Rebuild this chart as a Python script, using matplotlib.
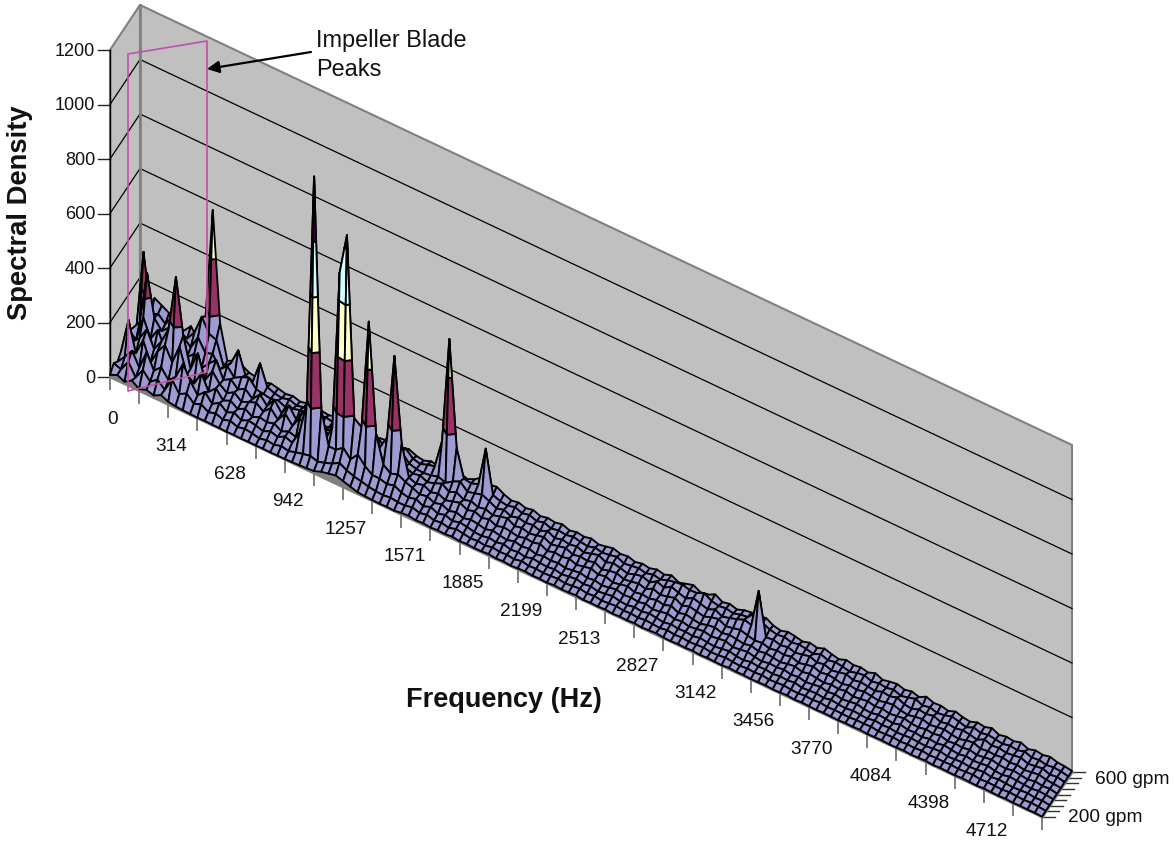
import matplotlib
matplotlib.use('Agg')
import matplotlib.pyplot as plt
from matplotlib.collections import PolyCollection

plt.rcParams['font.family'] = ['Liberation Sans', 'DejaVu Sans']

# front row first, one value per 39.27 Hz bin
row_200 = [8,20,8,25,6,16,8,22,10,6, 4,3,2,3,2,2,1,2,1,2, 1,2,1,2,2,3,4,6,8,18,
    24,30,22,14,6,4,3,2,3,2, 6,8,4,6,3,5,4,7,3,5, 3,4,6,3,5,2,4,6,3,4, 2,5,3,4,6,2,4,3,5,2,
    4,3,5,2,4,6,3,2,4,3, 5,2,4,3,2,5,3,4,2,3, 4,2,3,5,2,4,3,2,4,3, 2,4,3,5,2,3,4,2,3,4,
    2,3,5,2,4,3,2,4,3,2, 4,3,2,4,2,3,2,3,1]
row_250 = [30,20,60,15,55,25,45,20,70,30, 45,20,30,14,22,12,20,10,16,12, 6,12,8,16,10,18,25,30,22,30,
    40,55,40,30,25,18,14,12,16,12, 12,18,10,16,8,12,6,14,10,5, 8,4,10,6,8,4,10,5,7,4, 6,8,4,7,10,5,8,4,6,9,
    5,7,4,8,6,4,9,5,7,4, 6,8,4,5,9,6,4,7,5,8, 4,6,8,5,4,7,5,8,4,6, 5,4,7,6,8,4,5,7,4,6,
    5,8,4,6,5,7,4,6,8,4, 6,5,4,7,5,4,6,4,2]
row_300 = [15,45,80,30,100,45,70,35,60,120, 70,30,55,24,40,18,30,14,26,20, 12,24,16,30,20,70,190,1035,190,70,
    70,90,60,90,60,40,40,32,40,26, 20,28,14,24,12,20,10,18,14,8, 6,12,8,14,6,10,4,12,8,6, 10,4,8,12,6,10,4,8,12,6,
    4,10,6,12,8,4,10,6,8,4, 10,6,4,8,12,6,4,10,6,8, 4,8,6,10,4,6,8,4,10,6, 4,8,6,4,10,6,8,4,6,8,
    6,4,8,10,4,6,8,4,6,10, 4,8,6,4,6,8,4,6,2]
row_350 = [35,160,50,110,40,95,130,80,150,60, 40,90,35,60,28,40,22,36,18,30, 24,32,16,28,20,36,40,70,60,120,
    700,850,190,170,570,170,70,50,60,45, 36,24,30,18,26,14,22,12,20,16, 10,18,12,8,16,10,14,6,12,8, 12,6,10,14,8,12,6,10,16,8,
    12,8,14,6,10,16,8,12,6,10, 14,8,12,16,6,10,14,8,4,10, 8,12,6,10,4,8,12,6,10,4, 8,12,6,4,10,8,4,12,6,8,
    4,10,6,12,8,4,10,6,8,12, 6,4,10,8,6,4,8,6,3]
row_400 = [20,60,85,130,70,110,170,373,170,60, 130,45,90,55,35,50,28,40,50,30, 55,25,60,28,70,35,80,70,60,50,
    80,95,75,120,160,100,150,461,150,40, 30,38,24,32,20,28,36,22,30,18, 26,14,22,18,12,20,16,24,10,18, 14,20,10,16,22,12,18,8,14,20,
    10,16,12,20,14,24,10,18,12,8, 16,20,12,18,14,10,16,8,14,10, 6,12,16,8,14,10,6,12,8,14, 6,10,14,8,12,6,10,14,8,6,
    12,8,14,6,10,8,12,6,10,14, 8,6,12,8,4,10,6,8,3]
row_450 = [70,45,140,75,120,60,160,100,70,95, 55,85,110,50,65,40,55,30,60,30, 65,28,70,30,75,35,60,42,55,40,
    60,70,55,90,110,85,70,60,45,34, 40,28,36,48,30,42,26,34,24,30, 20,28,34,18,24,16,22,28,14,20, 26,14,20,16,24,10,18,22,12,16,
    22,14,28,18,24,32,16,26,20,14, 24,30,16,22,28,20,14,18,10,16, 12,18,8,14,20,10,16,12,6,14, 10,16,12,8,14,18,10,6,12,16,
    8,12,16,10,6,14,18,8,12,10, 14,8,12,6,10,14,8,6,3]
row_500 = [55,90,283,130,95,120,75,110,85,135, 90,100,55,80,50,65,75,45,40,35, 42,30,36,45,28,34,24,32,40,36,
    45,50,40,55,60,75,50,65,38,30, 28,32,40,30,48,60,35,42,50,38, 24,32,20,28,22,26,18,30,16,24, 18,24,14,22,30,16,26,20,12,22,
    28,18,34,24,40,30,22,36,28,20, 32,18,26,34,45,38,176,18,22,14, 20,12,18,24,14,20,10,16,22,12, 18,14,10,20,16,24,12,8,18,14,
    20,10,16,12,18,14,8,22,12,16, 10,14,18,8,12,16,6,10,4]
row_550 = [30,327,110,125,100,140,95,85,120,190, 140,130,45,70,130,50,40,120,45,35, 30,38,28,34,40,28,36,30,25,32,
    28,34,26,40,30,36,45,60,35,28, 38,45,150,537,150,50,45,55,198,40, 30,26,34,24,30,20,28,18,24,20, 26,20,16,24,18,22,28,16,20,24,
    18,26,20,30,36,40,32,34,46,30, 24,28,22,30,34,60,38,26,20,24, 16,22,18,12,24,14,20,16,10,18, 22,12,18,14,20,10,16,24,12,18,
    10,14,22,16,8,20,12,18,14,10, 16,12,20,10,14,8,12,10,4]
row_600 = [40,95,150,135,120,95,80,110,70,170, 574,170,45,60,55,40,35,30,38,32, 25,30,22,28,35,25,22,30,26,20,
    24,28,20,26,30,22,28,35,24,20, 30,25,32,22,35,28,40,60,45,50, 35,25,30,22,28,18,24,20,26,16, 22,18,24,15,20,26,18,22,14,20,
    16,24,18,28,14,22,30,16,20,34, 18,24,16,26,30,30,35,20,14,22, 18,12,20,14,24,16,10,20,14,18, 12,22,10,16,20,12,18,10,24,14,
    16,10,20,12,8,18,14,22,10,16, 12,20,8,16,12,18,10,8,4]

rows = [row_200, row_250, row_300, row_350, row_400, row_450, row_500, row_550, row_600]

freq_labels = ['0','314','628','942','1257','1571','1885','2199','2513','2827','3142','3456','3770','4084','4398','4712']
density_ticks = [0,200,400,600,800,1000,1200]
band_colors = ['#9C9CD2','#993366','#FFFFCC','#CCFFFF','#660066','#FF8080']

n_i = len(row_200) - 1
n_j = len(rows) - 1

def project(i, j, z):
    x = 110 + 932 * i / n_i + 30 * j / n_j
    y = 377 + 440 * i / n_i - 45 * j / n_j - 327 * z / 1200
    return x, y

def clipBand(pts, level, keep_above):
    out = []
    for k in range(len(pts)):
        a = pts[k]
        b = pts[(k + 1) % len(pts)]
        a_in = a[2] >= level if keep_above else a[2] <= level
        b_in = b[2] >= level if keep_above else b[2] <= level
        if a_in:
            out.append(a)
        if a_in != b_in:
            t = (level - a[2]) / (b[2] - a[2])
            out.append((a[0] + t * (b[0] - a[0]), a[1] + t * (b[1] - a[1]), level))
    return out

def surfacePolys():
    polys = []
    colors = []
    # back rows first, then left to right, the viewer is at the high frequency front corner
    for j in range(n_j - 1, -1, -1):
        for i in range(n_i):
            quad = [(i, j, rows[j][i]), (i + 1, j, rows[j][i + 1]),
                    (i + 1, j + 1, rows[j + 1][i + 1]), (i, j + 1, rows[j + 1][i])]
            for b, c in enumerate(band_colors):
                part = clipBand(quad, density_ticks[b], True)
                if part:
                    part = clipBand(part, density_ticks[b + 1], False)
                if len(part) > 2:
                    polys.append([project(*p) for p in part])
                    colors.append(c)
    return polys, colors

fig = plt.figure(figsize=(11.75, 8.41), dpi=100)
ax = fig.add_axes([0, 0, 1, 1])
ax.set_xlim(0, 1175)
ax.set_ylim(841, 0)
ax.axis('off')

wall = '#C0C0C0'
edge = '#808080'

# walls and floor
top = density_ticks[-1]
left_wall = [project(0,0,0), project(0,0,top), project(0,n_j,top), project(0,n_j,0)]
back_wall = [project(0,n_j,0), project(0,n_j,top), project(n_i,n_j,top), project(n_i,n_j,0)]
floor = [project(0,0,0), project(n_i,0,0), project(n_i,n_j,0), project(0,n_j,0)]
ax.add_collection(PolyCollection([left_wall, back_wall], facecolors=wall, edgecolors=edge, linewidths=1.5, zorder=1))
ax.add_collection(PolyCollection([floor], facecolors=edge, edgecolors=edge, linewidths=1.5, zorder=3))

for d in density_ticks:
    xs, ys = zip(project(0,0,d), project(0,n_j,d), project(n_i,n_j,d))
    if d < top:
        ax.plot(xs, ys, color='black', lw=0.9, zorder=2)
    x0, y0 = project(0,0,d)
    ax.plot([x0 - 12, x0], [y0, y0], color='#222222', lw=1.0, zorder=2)
    ax.text(x0 - 15, y0 + 1, str(d), ha='right', va='center', fontsize=13, color='#111111')
xs, ys = zip(project(0,0,0), project(0,0,top))
ax.plot(xs, ys, color='black', lw=1.0, zorder=2)
xs, ys = zip(project(0,n_j,0), project(0,n_j,top))
ax.plot(xs, ys, color=edge, lw=2.0, zorder=2)

# frequency ticks every 4 bins, labels every 8
for i in range(0, n_i + 1, 4):
    x0, y0 = project(i, 0, 0)
    ax.plot([x0, x0], [y0, y0 + 12], color=edge, lw=1.4, zorder=2)
for k, lab in enumerate(freq_labels):
    x0, y0 = project(k * 8, 0, 0)
    ax.text(x0 + 3, y0 + 42, lab, ha='center', va='center', fontsize=13.7, color='#111111')

# flow ticks
for j in range(n_j + 1):
    x0, y0 = project(n_i, j, 0)
    ax.plot([x0, x0 + 13], [y0, y0], color='#333333', lw=1.0, zorder=2)
x0, y0 = project(n_i, n_j, 0)
ax.text(x0 + 23, y0 + 7, '600 gpm', ha='left', va='center', fontsize=13.8, color='#111111')
x0, y0 = project(n_i, 0, 0)
ax.text(x0 + 26, y0 + 1, '200 gpm', ha='left', va='center', fontsize=13.8, color='#111111')

polys, colors = surfacePolys()
ax.add_collection(PolyCollection(polys, facecolors=colors, edgecolors='black', linewidths=1.35, zorder=4))

# box around the blade peaks
ax.add_collection(PolyCollection([[(128,54),(207,41),(207,372),(128,391)]], facecolors='none',
                                 edgecolors='#C44FA8', linewidths=1.2, zorder=5))
ax.annotate('', xy=(207,69), xytext=(311,52), zorder=6,
            arrowprops=dict(arrowstyle='-|>', color='black', lw=1.6, mutation_scale=18, shrinkA=0, shrinkB=0))
ax.text(316, 55, 'Impeller Blade\nPeaks', ha='left', va='center', fontsize=16.9, linespacing=1.3, color='#111111')

ax.text(20, 213, 'Spectral Density', rotation=90, ha='center', va='center', fontsize=19.7, fontweight='bold', color='#111111')
ax.text(504, 700, 'Frequency (Hz)', ha='center', va='center', fontsize=19.5, fontweight='bold', color='#111111')

plt.savefig('out.png', dpi=100)
